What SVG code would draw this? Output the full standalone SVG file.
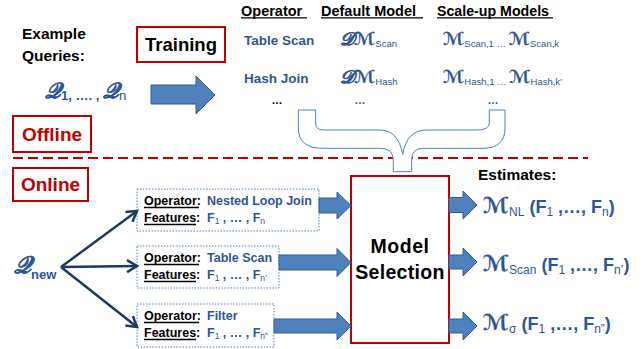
<svg xmlns="http://www.w3.org/2000/svg" width="644" height="349" viewBox="0 0 644 349">
<defs>
<style>
.t{font-family:"Liberation Sans",Arial,sans-serif;font-weight:bold}
.k{fill:#000}
.u{fill:#2F5597}
.r{fill:#C00000}
.s{font-family:"DejaVu Serif","DejaVu Sans","Noto Sans",serif;font-style:italic;font-weight:bold;fill:#2F5597;stroke:#2F5597;stroke-width:0.2}
.sub{font-weight:normal}
.blk{fill:#4F81BD;stroke:#385D8A;stroke-width:1}
.dot{fill:#fff;stroke:#4F81BD;stroke-width:1;stroke-dasharray:1.5 1.5}
.redbox{fill:#fff;stroke:#C00000;stroke-width:2}
.ul{stroke:#000;stroke-width:1.3}
.nav{stroke:#1F3864;stroke-width:2.5;fill:none}
</style>
<marker id="ah" markerUnits="userSpaceOnUse" markerWidth="16" markerHeight="16" refX="11" refY="7" orient="auto">
<path d="M1,1 L11,7 L1,13" fill="none" stroke="#1F3864" stroke-width="2.5"/>
</marker>
</defs>

<line x1="13" y1="158" x2="588" y2="158" stroke="#C00000" stroke-width="2" stroke-dasharray="10 5"/>

<g id="example-queries">
<text class="t k" x="22" y="39" font-size="15.5">Example</text>
<text class="t k" x="22" y="61" font-size="15.5">Queries:</text>
<text x="45" y="98"><tspan class="s" font-size="22">𝒬</tspan><tspan class="t u" font-size="13" dy="2">1, …. , </tspan><tspan class="s" font-size="22" dy="-2">𝒬</tspan><tspan class="t u sub" font-size="13" dy="2">n</tspan></text>
</g>

<g id="training">
<rect class="redbox" x="137" y="27" width="88" height="35"/>
<text class="t k" x="181" y="51" font-size="18.5" text-anchor="middle">Training</text>
</g>

<g id="offline">
<rect class="redbox" x="13" y="116" width="78" height="36"/>
<text class="t r" x="52" y="141" font-size="19" text-anchor="middle">Offline</text>
</g>

<g id="online">
<rect class="redbox" x="13" y="168" width="75" height="33"/>
<text class="t r" x="50.5" y="191" font-size="19" text-anchor="middle">Online</text>
</g>

<g id="model-table">
<text class="t k" x="241" y="15.5" font-size="14.5">Operator</text>
<line class="ul" x1="241" y1="17.8" x2="307" y2="17.8"/>
<text class="t k" x="321" y="15.5" font-size="14.5">Default Model</text>
<line class="ul" x1="321" y1="17.8" x2="423" y2="17.8"/>
<text class="t k" x="437" y="15.5" font-size="14.5" textLength="112" lengthAdjust="spacingAndGlyphs">Scale-up Models</text>
<line class="ul" x1="437" y1="17.8" x2="553" y2="17.8"/>

<text class="t u" x="244" y="45" font-size="13.5">Table Scan</text>
<text class="t u" x="244" y="83" font-size="13.5">Hash Join</text>
<text class="t k" x="277" y="104" font-size="11" text-anchor="middle">…</text>

<text x="340" y="45"><tspan class="s" font-size="18">𝒟ℳ</tspan><tspan class="t u sub" font-size="9.5" dy="2">Scan</tspan></text>
<text x="340" y="83"><tspan class="s" font-size="18">𝒟ℳ</tspan><tspan class="t u sub" font-size="9.5" dy="2">Hash</tspan></text>
<text class="t u" x="360" y="104" font-size="11" text-anchor="middle">…</text>

<text x="443" y="45"><tspan class="s" font-size="18">ℳ</tspan><tspan class="t u sub" font-size="9.5" dy="2">Scan,1 … </tspan><tspan class="s" font-size="18" dy="-2">ℳ</tspan><tspan class="t u sub" font-size="9.5" dy="2">Scan,k</tspan></text>
<text x="443" y="83"><tspan class="s" font-size="18">ℳ</tspan><tspan class="t u sub" font-size="9.5" dy="2">Hash,1 … </tspan><tspan class="s" font-size="18" dy="-2">ℳ</tspan><tspan class="t u sub" font-size="9.5" dy="2">Hash,k’</tspan></text>
<text class="t u" x="493" y="104" font-size="11" text-anchor="middle">…</text>
</g>

<g id="brace">
<path d="M298.3,110 L315.7,110 L315.7,123 Q315.7,130 323,130 L380,130 Q398,130 402.7,154.3 Q407,130 426.7,130 L476.7,130 Q489.3,130 489.3,123 L489.3,110 L505,110 L505,128 Q505,148.3 483,148.3 L423,148.3 Q411.7,148.3 411.7,160 L411.7,171.7 L393.3,171.7 L393.3,160 Q393.3,148.3 380,148.3 L323,148.3 Q298.3,148.3 298.3,128 Z" fill="#fff" stroke="#4F81BD" stroke-width="1"/>
</g>

<g id="q-new">
<text x="14" y="273"><tspan class="s" font-size="24">𝒬</tspan><tspan class="t u" font-size="13" dy="6">new</tspan></text>
</g>

<g id="op-nlj">
<rect class="dot" x="137" y="189" width="182" height="42"/>
<text class="t k" x="144" y="205" font-size="12.5">Operator:</text>
<line class="ul" x1="144" y1="207.5" x2="199" y2="207.5"/>
<text class="t u" x="207" y="205" font-size="12.5">Nested Loop Join</text>
<text class="t k" x="144" y="222" font-size="12.5">Features:</text>
<line class="ul" x1="144" y1="224.5" x2="196" y2="224.5"/>
<text x="207" y="222"><tspan class="t u" font-size="12.5">F</tspan><tspan class="t u sub" font-size="8.5" dy="2">1</tspan><tspan class="t u" font-size="12.5" dy="-2"> , … , F</tspan><tspan class="t u sub" font-size="8.5" dy="2">n</tspan></text>
</g>

<g id="op-scan">
<rect class="dot" x="137" y="246" width="142" height="42"/>
<text class="t k" x="144" y="262" font-size="12.5">Operator:</text>
<line class="ul" x1="144" y1="264.5" x2="199" y2="264.5"/>
<text class="t u" x="207" y="262" font-size="12.5">Table Scan</text>
<text class="t k" x="144" y="279" font-size="12.5">Features:</text>
<line class="ul" x1="144" y1="281.5" x2="196" y2="281.5"/>
<text x="207" y="279"><tspan class="t u" font-size="12.5">F</tspan><tspan class="t u sub" font-size="8.5" dy="2">1</tspan><tspan class="t u" font-size="12.5" dy="-2"> , … , F</tspan><tspan class="t u sub" font-size="8.5" dy="2">n’</tspan></text>
</g>

<g id="op-filter">
<rect class="dot" x="137" y="304" width="137" height="43"/>
<text class="t k" x="144" y="320" font-size="12.5">Operator:</text>
<line class="ul" x1="144" y1="322.5" x2="199" y2="322.5"/>
<text class="t u" x="207" y="320" font-size="12.5">Filter</text>
<text class="t k" x="144" y="337" font-size="12.5">Features:</text>
<line class="ul" x1="144" y1="339.5" x2="196" y2="339.5"/>
<text x="207" y="337"><tspan class="t u" font-size="12.5">F</tspan><tspan class="t u sub" font-size="8.5" dy="2">1</tspan><tspan class="t u" font-size="12.5" dy="-2"> , … , F</tspan><tspan class="t u sub" font-size="8.5" dy="2">n”</tspan></text>
</g>

<g id="model-selection">
<rect class="redbox" x="351" y="176" width="98" height="167"/>
<text class="t k" x="400" y="253" font-size="19.5" text-anchor="middle" letter-spacing="0.5">Model</text>
<text class="t k" x="400" y="279" font-size="19.5" text-anchor="middle" letter-spacing="0.3">Selection</text>
</g>

<g id="estimates">
<text class="t k" x="478" y="180" font-size="15.5">Estimates:</text>
<text x="483" y="213"><tspan class="s" font-size="22">ℳ</tspan><tspan class="t u sub" font-size="12" dy="3">NL</tspan><tspan class="t u" font-size="18" dy="-3"> (F</tspan><tspan class="t u sub" font-size="12" dy="3">1</tspan><tspan class="t u" font-size="18" dy="-3"> ,…, F</tspan><tspan class="t u sub" font-size="12" dy="3">n</tspan><tspan class="t u" font-size="18" dy="-3">)</tspan></text>
<text x="483" y="271"><tspan class="s" font-size="22">ℳ</tspan><tspan class="t u sub" font-size="12" dy="3">Scan</tspan><tspan class="t u" font-size="18" dy="-3"> (F</tspan><tspan class="t u sub" font-size="12" dy="3">1</tspan><tspan class="t u" font-size="18" dy="-3"> ,…, F</tspan><tspan class="t u sub" font-size="12" dy="3">n’</tspan><tspan class="t u" font-size="18" dy="-3">)</tspan></text>
<text x="483" y="330"><tspan class="s" font-size="22">ℳ</tspan><tspan class="t u sub" font-size="12" dy="3">σ</tspan><tspan class="t u" font-size="18" dy="-3"> (F</tspan><tspan class="t u sub" font-size="12" dy="3">1</tspan><tspan class="t u" font-size="18" dy="-3"> ,…, F</tspan><tspan class="t u sub" font-size="12" dy="3">n”</tspan><tspan class="t u" font-size="18" dy="-3">)</tspan></text>
</g>

<g id="connectors">
<polygon class="blk" points="151,85 196,85 196,76 215,95 196,114 196,104 151,104"/>
<line class="nav" x1="61" y1="267" x2="137" y2="211" marker-end="url(#ah)"/>
<line class="nav" x1="61" y1="267" x2="137" y2="266" marker-end="url(#ah)"/>
<line class="nav" x1="61" y1="267" x2="137" y2="327" marker-end="url(#ah)"/>
<polygon class="blk" points="319,198 337,198 337,192 351,205.5 337,219 337,213 319,213"/>
<polygon class="blk" points="279,255 337,255 337,248.5 351,262.5 337,276.5 337,270 279,270"/>
<polygon class="blk" points="274,319 337,319 337,312 351,326 337,340 337,333 274,333"/>
<polygon class="blk" points="449,197.5 463,197.5 463,191 477,205 463,219 463,212.5 449,212.5"/>
<polygon class="blk" points="449,255 463,255 463,248 477,262 463,276 463,269 449,269"/>
<polygon class="blk" points="449,319 463,319 463,312 477,326 463,340 463,333 449,333"/>
</g>
</svg>
